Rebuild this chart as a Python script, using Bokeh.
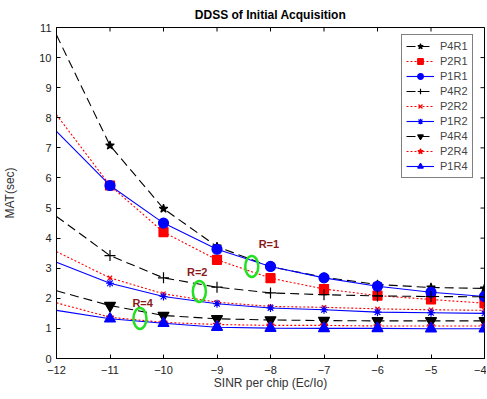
import math
from bokeh.plotting import figure
from bokeh.models import Range1d, FixedTicker, Legend
from bokeh.core.properties import value
from bokeh.embed import file_html
from bokeh.resources import INLINE

# ---- data ----
x_line = [-12, -11, -10, -9, -8, -7, -6, -5, -4]
x_mark = [-11, -10, -9, -8, -7, -6, -5, -4]

P4R1 = [10.75, 7.08, 4.98, 3.72, 3.05, 2.70, 2.46, 2.36, 2.33]
P2R1 = [8.10, 5.75, 4.20, 3.28, 2.67, 2.31, 2.09, 1.96, 1.84]
P1R1 = [7.55, 5.75, 4.50, 3.63, 3.06, 2.68, 2.40, 2.20, 2.06]
P4R2 = [4.72, 3.42, 2.68, 2.37, 2.18, 2.12, 2.08, 2.06, 2.05]
P2R2 = [3.55, 2.68, 2.15, 1.87, 1.73, 1.70, 1.65, 1.62, 1.60]
P1R2 = [3.20, 2.50, 2.06, 1.82, 1.68, 1.62, 1.54, 1.52, 1.50]
P4R4 = [2.25, 1.76, 1.43, 1.32, 1.28, 1.26, 1.25, 1.25, 1.25]
P2R4 = [1.85, 1.37, 1.20, 1.13, 1.10, 1.10, 1.08, 1.08, 1.08]
P1R4 = [1.60, 1.32, 1.17, 1.04, 1.01, 1.00, 1.00, 0.99, 0.99]

series_names = ["P4R1", "P2R1", "P1R1", "P4R2", "P2R2", "P1R2", "P4R4", "P2R4", "P1R4"]
series_vals = [P4R1, P2R1, P1R1, P4R2, P2R2, P1R2, P4R4, P2R4, P1R4]

x_ticks = [-12, -11, -10, -9, -8, -7, -6, -5, -4]
y_ticks = list(range(0, 12))
X_MIN, X_MAX = -12, -4
Y_MIN, Y_MAX = 0, 11

ann_text = ["R=1", "R=2", "R=4"]
ann_x = [-8.03, -9.37, -10.39]
ann_y = [3.82, 2.86, 1.86]
ell_x = [-8.35, -9.33, -10.44]
ell_y = [3.06, 2.23, 1.33]

# ---- styles ----
FONT = "Liberation Sans"
styles = {
    "P4R1": dict(color="black", dash="9 5", marker="star", size=9, fill=True),
    "P2R1": dict(color="#ff0000", dash="2 2", marker="square", size=9, fill=True),
    "P1R1": dict(color="#0000ff", dash="solid", marker="circle", size=10, fill=True),
    "P4R2": dict(color="black", dash="9 5", marker="cross", size=11, fill=False),
    "P2R2": dict(color="#ff0000", dash="2 2", marker="x", size=6, fill=False),
    "P1R2": dict(color="#0000ff", dash="solid", marker="asterisk", size=8, fill=False),
    "P4R4": dict(color="black", dash="9 5", marker="inverted_triangle", size=11, fill=True),
    "P2R4": dict(color="#ff0000", dash="2 2", marker="star", size=8, fill=True),
    "P1R4": dict(color="#0000ff", dash="solid", marker="triangle", size=11, fill=True),
}

p = figure(width=486, height=392, output_backend="svg", toolbar_location=None,
           x_range=Range1d(X_MIN, X_MAX), y_range=Range1d(Y_MIN, Y_MAX),
           min_border_left=5, min_border_right=2, min_border_top=5, min_border_bottom=5)

p.title.text = "DDSS of Initial Acquisition"
p.title.align = "center"
p.title.text_font = FONT
p.title.text_font_size = "12px"
p.title.text_font_style = "bold"
p.title.text_color = "black"
p.title.offset = 0
p.title.standoff = 11

p.grid.visible = False
p.outline_line_color = "black"
p.outline_line_width = 1
p.background_fill_color = "white"
p.border_fill_color = "white"

# inward tick marks on the top and right edges (clipped to the frame)
p.scatter(x_ticks, [Y_MAX] * len(x_ticks), marker="dash", size=8, angle=math.pi / 2,
          line_color="black", line_width=1)
p.scatter([X_MAX] * len(y_ticks), y_ticks, marker="dash", size=8,
          line_color="black", line_width=1)

items = []
for name, vals in zip(series_names, series_vals):
    s = styles[name]
    r_line = p.line(x_line, vals, line_color=s["color"], line_width=1.1, line_dash=s["dash"])
    r_mark = p.scatter(x_mark, vals[1:], marker=s["marker"], size=s["size"],
                       line_color=s["color"], fill_color=s["color"] if s["fill"] else None,
                       line_width=1.2)
    items.append((name, [r_line, r_mark]))

legend = Legend(items=items, location=(345, 180))
legend.label_text_font = FONT
legend.label_text_font_size = "11px"
legend.label_height = 14
legend.glyph_height = 14
legend.glyph_width = 28
legend.spacing = 1
legend.padding = 4
legend.margin = 0
legend.label_standoff = 6
legend.border_line_color = "black"
legend.border_line_width = 1
legend.background_fill_alpha = 1
p.add_layout(legend)

p.ellipse(x=ell_x, y=ell_y, width=13, height=21, width_units="screen", height_units="screen",
          fill_color=None, line_color="#22e022", line_width=2.5)
p.text(x=ann_x, y=ann_y, text=ann_text, text_font=value(FONT), text_font_size="11px",
       text_font_style="bold", text_color="#8b1a1a", text_align="center", text_baseline="middle")

for ax in [p.xaxis[0], p.yaxis[0]]:
    ax.major_tick_in = 4
    ax.major_tick_out = 0
    ax.minor_tick_line_color = None
    ax.axis_line_color = "black"
    ax.major_label_text_font = FONT
    ax.major_label_text_font_size = "11px"
    ax.major_label_text_color = "#222222"
    ax.axis_label_text_font = FONT
    ax.axis_label_text_font_size = "12px"
    ax.axis_label_text_font_style = "normal"
    ax.axis_label_text_color = "#333333"

p.xaxis.ticker = FixedTicker(ticks=x_ticks)
p.yaxis.ticker = FixedTicker(ticks=y_ticks)
p.xaxis.axis_label = "SINR per chip (Ec/Io)"
p.yaxis.axis_label = "MAT(sec)"
p.xaxis.major_label_standoff = 7
p.yaxis.major_label_standoff = 5
p.xaxis.axis_label_standoff = -1
p.yaxis.axis_label_standoff = 19

open("out.html", "w").write(file_html(p, INLINE))
